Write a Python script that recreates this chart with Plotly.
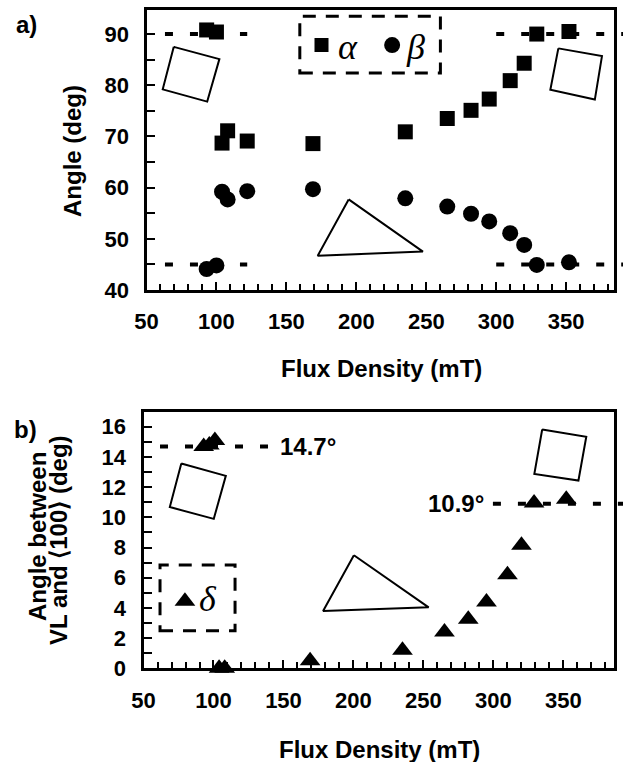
import plotly.graph_objects as go

# ---------------- data ----------------
flux_ab = [93, 100, 104, 108, 122, 169, 235, 265, 282, 295, 310, 320, 329, 352]
alpha = [90.8, 90.4, 68.7, 71.1, 69.1, 68.6, 70.9, 73.5, 75.1, 77.3, 80.9, 84.3, 90.0, 90.5]
beta = [44.1, 44.8, 59.2, 57.7, 59.3, 59.7, 57.9, 56.3, 54.9, 53.4, 51.1, 48.8, 44.9, 45.4]

flux_d = [93, 97, 101, 104, 108, 169, 235, 265, 282, 295, 310, 320, 329, 352]
delta = [14.7, 14.8, 15.1, 0.0, 0.0, 0.5, 1.2, 2.4, 3.25, 4.4, 6.2, 8.15, 10.95, 11.2]

x_ticks = [50, 100, 150, 200, 250, 300, 350]
y_ticks_a = [40, 50, 60, 70, 80, 90]
y_ticks_b = [0, 2, 4, 6, 8, 10, 12, 14, 16]

# reference lines: level, x start, x end (None = to the right edge)
ref_a = [(90, 63.2, 122), (45, 63.2, 122), (90, 300, None), (45, 300, None)]
ref_b = [(14.7, 61.8, 140.4), (10.9, 299.6, None)]

# crystal sketches (outline polygons)
sq_a_left_x = [69.5, 102.1, 93.4, 61.6]
sq_a_left_y = [87.5, 85.1, 76.8, 79.2]
sq_a_right_x = [344.4, 375.6, 370.5, 338.7]
sq_a_right_y = [87.2, 85.7, 77.2, 79.1]
tri_a_x = [194.5, 247.6, 172.4]
tri_a_y = [57.7, 47.5, 46.7]

sq_b_left_x = [77.0, 108.8, 100.2, 68.8]
sq_b_left_y = [13.57, 12.75, 9.9, 10.68]
sq_b_right_x = [334.8, 366.3, 360.7, 329.2]
sq_b_right_y = [15.82, 15.34, 12.44, 12.88]
tri_b_x = [200.3, 253.7, 178.3]
tri_b_y = [7.49, 4.04, 3.8]

# legend boxes
leg_a_box = [159.6, 82.4, 260.1, 93.5]
leg_b_box = [61.8, 2.49, 115.4, 6.84]

FONT = "Liberation Sans"
W, H = 623, 762


def px(x):
    return x / W


def py(y):
    return 1 - y / H


dom_a_x = [px(146.5), px(614)]
dom_a_y = [py(290), py(10)]
dom_b_x = [px(143.5), px(614)]
dom_b_y = [py(668.3), py(411.7)]
range_a_x = [50, 384.2]
range_b_x = [50, 386.1]

fig = go.Figure()

# data traces
fig.add_trace(go.Scatter(x=flux_ab, y=alpha, mode="markers", xaxis="x", yaxis="y",
                         marker=dict(symbol="square", size=15, color="black"),
                         cliponaxis=False, showlegend=False))
fig.add_trace(go.Scatter(x=flux_ab, y=beta, mode="markers", xaxis="x", yaxis="y",
                         marker=dict(symbol="circle", size=16, color="black"),
                         cliponaxis=False, showlegend=False))
fig.add_trace(go.Scatter(x=flux_d, y=delta, mode="markers", xaxis="x2", yaxis="y2",
                         marker=dict(symbol="triangle-up", size=18, color="black"),
                         cliponaxis=False, showlegend=False))


def poly(xs, ys, xa, ya):
    fig.add_trace(go.Scatter(x=xs + xs[:1], y=ys + ys[:1], mode="lines", xaxis=xa, yaxis=ya,
                             line=dict(color="black", width=2), showlegend=False,
                             hoverinfo="skip"))


poly(sq_a_left_x, sq_a_left_y, "x", "y")
poly(sq_a_right_x, sq_a_right_y, "x", "y")
poly(tri_a_x, tri_a_y, "x", "y")
poly(sq_b_left_x, sq_b_left_y, "x2", "y2")
poly(sq_b_right_x, sq_b_right_y, "x2", "y2")
poly(tri_b_x, tri_b_y, "x2", "y2")

# legend markers
fig.add_trace(go.Scatter(x=[175.1], y=[87.85], mode="markers", xaxis="x", yaxis="y",
                         marker=dict(symbol="square", size=14, color="black"), showlegend=False))
fig.add_trace(go.Scatter(x=[225.6], y=[87.85], mode="markers", xaxis="x", yaxis="y",
                         marker=dict(symbol="circle", size=16, color="black"), showlegend=False))
fig.add_trace(go.Scatter(x=[79.6], y=[4.45], mode="markers", xaxis="x2", yaxis="y2",
                         marker=dict(symbol="triangle-up", size=18, color="black"), showlegend=False))

shapes = []
for lvl, x0, x1 in ref_a:
    if x1 is None:
        shapes.append(dict(type="line", xref="x domain", yref="y",
                           x0=(x0 - range_a_x[0]) / (range_a_x[1] - range_a_x[0]), x1=1.03,
                           y0=lvl, y1=lvl, layer="below",
                           line=dict(color="black", width=4, dash="8px,17px")))
    else:
        shapes.append(dict(type="line", xref="x", yref="y", x0=x0, x1=x1, y0=lvl, y1=lvl,
                           layer="below", line=dict(color="black", width=4, dash="8px,17px")))
for lvl, x0, x1 in ref_b:
    if x1 is None:
        shapes.append(dict(type="line", xref="x2 domain", yref="y2",
                           x0=(x0 - range_b_x[0]) / (range_b_x[1] - range_b_x[0]), x1=1.03,
                           y0=lvl, y1=lvl, layer="below",
                           line=dict(color="black", width=4, dash="8px,17px")))
    else:
        shapes.append(dict(type="line", xref="x2", yref="y2", x0=x0, x1=x1, y0=lvl, y1=lvl,
                           layer="below", line=dict(color="black", width=4, dash="8px,17px")))

shapes.append(dict(type="rect", xref="x", yref="y", x0=leg_a_box[0], y0=leg_a_box[1],
                   x1=leg_a_box[2], y1=leg_a_box[3],
                   line=dict(color="black", width=3, dash="13px,10px")))
shapes.append(dict(type="rect", xref="x2", yref="y2", x0=leg_b_box[0], y0=leg_b_box[1],
                   x1=leg_b_box[2], y1=leg_b_box[3],
                   line=dict(color="black", width=3, dash="13px,10px")))

bold = dict(family=FONT, size=22, color="black", weight="bold")
title_font = dict(family=FONT, size=24, color="black", weight="bold")
greek = dict(family="Liberation Serif", size=36, color="black", style="italic")

annotations = [
    dict(text="a)", x=px(26), y=py(25), xref="paper", yref="paper", showarrow=False,
         font=title_font, xanchor="center", yanchor="middle"),
    dict(text="b)", x=px(25), y=py(429), xref="paper", yref="paper", showarrow=False,
         font=title_font, xanchor="center", yanchor="middle"),
    dict(text="Flux Density (mT)", x=px(381), y=py(368), xref="paper", yref="paper",
         showarrow=False, font=title_font, xanchor="center", yanchor="middle"),
    dict(text="Flux Density (mT)", x=px(379), y=py(749), xref="paper", yref="paper",
         showarrow=False, font=title_font, xanchor="center", yanchor="middle"),
    dict(text="Angle (deg)", x=px(72), y=py(151), xref="paper", yref="paper",
         showarrow=False, font=title_font, textangle=-90, xanchor="center", yanchor="middle"),
    dict(text="Angle between", x=px(37), y=py(537), xref="paper", yref="paper",
         showarrow=False, font=title_font, textangle=-90, xanchor="center", yanchor="middle"),
    dict(text="VL and \u27e8100\u27e9 (deg)", x=px(58), y=py(540), xref="paper", yref="paper",
         showarrow=False, font=title_font, textangle=-90, xanchor="center", yanchor="middle"),
    dict(text="14.7\u00b0", x=167.5, y=14.7, xref="x2", yref="y2", showarrow=False,
         font=title_font, xanchor="center", yanchor="middle"),
    dict(text="10.9\u00b0", x=273.2, y=10.9, xref="x2", yref="y2", showarrow=False,
         font=title_font, xanchor="center", yanchor="middle"),
    dict(text="\u03b1", x=193.9, y=87.4, xref="x", yref="y", showarrow=False,
         font=greek, xanchor="center", yanchor="middle"),
    dict(text="\u03b2", x=242.4, y=87.4, xref="x", yref="y", showarrow=False,
         font=greek, xanchor="center", yanchor="middle"),
    dict(text="\u03b4", x=96.1, y=4.6, xref="x2", yref="y2", showarrow=False,
         font=greek, xanchor="center", yanchor="middle"),
]

axis_common = dict(showline=True, linecolor="black", linewidth=3, mirror=True,
                   ticks="inside", ticklen=8, tickwidth=2, tickcolor="black",
                   showgrid=False, zeroline=False, tickfont=bold, ticklabelstandoff=10,
                   automargin=False)

fig.update_layout(
    width=W, height=H, margin=dict(l=0, r=0, t=0, b=0, pad=0, autoexpand=False),
    paper_bgcolor="white", plot_bgcolor="white", showlegend=False,
    xaxis=dict(domain=dom_a_x, range=range_a_x, anchor="y", tickvals=x_ticks,
               minor=dict(dtick=10, tick0=50, ticks="inside", ticklen=6, tickwidth=2,
                          tickcolor="black", showgrid=False),
               **axis_common),
    yaxis=dict(domain=dom_a_y, range=[40, 94.7], anchor="x", tickvals=y_ticks_a,
               minor=dict(dtick=5, tick0=40, ticks="inside", ticklen=8, tickwidth=2,
                          tickcolor="black", showgrid=False),
               **axis_common),
    xaxis2=dict(domain=dom_b_x, range=range_b_x, anchor="y2", tickvals=x_ticks,
                minor=dict(dtick=10, tick0=50, ticks="inside", ticklen=6, tickwidth=2,
                           tickcolor="black", showgrid=False),
                **axis_common),
    yaxis2=dict(domain=dom_b_y, range=[0, 17], anchor="x2", tickvals=y_ticks_b,
                minor=dict(dtick=1, tick0=0, ticks="inside", ticklen=8, tickwidth=2,
                           tickcolor="black", showgrid=False),
                **axis_common),
    shapes=shapes,
    annotations=annotations,
)

fig.write_html("out.html")
